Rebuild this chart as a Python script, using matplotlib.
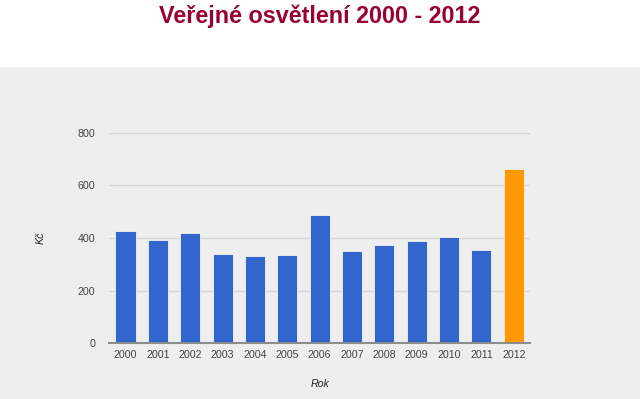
import numpy as np
import matplotlib.pyplot as plt
from matplotlib.patches import Rectangle

plt.rcParams['font.family'] = ['Liberation Sans', 'DejaVu Sans']

years = ['2000', '2001', '2002', '2003', '2004', '2005', '2006',
         '2007', '2008', '2009', '2010', '2011', '2012']
costs = [427, 392, 420, 340, 330, 335, 489, 351, 375, 388, 404, 353, 661]
highlight = '2012'

W, H = 640, 399
fig = plt.figure(figsize=(W / 100, H / 100), dpi=100)
fig.patch.set_facecolor('white')

# grey panel under the title
fig.patches.append(Rectangle((0, 0), 1, 1 - 67 / H, transform=fig.transFigure,
                             facecolor='#eeeeee', edgecolor='none', zorder=-5))

fig.text(0.5, 1 - 16 / H, 'Veřejné osvětlení 2000 - 2012', ha='center', va='center',
         fontsize=16.8, fontweight='bold', color='#990033')

# plot area: x 109..530, y 132..343 (pixels)
ax = fig.add_axes([109.3 / W, 1 - 343.3 / H, (530 - 109.3) / W, (343.3 - 132.7) / H])
ax.set_facecolor('none')

x = np.arange(len(years))
colors = ['#ff9900' if y == highlight else '#3366cc' for y in years]
ax.bar(x, costs, width=0.62, color=colors, edgecolor='#f4f4f4', linewidth=0.6, zorder=3)

ax.set_xlim(-0.5, len(years) - 0.5)
ax.set_ylim(0, 800)
ax.set_yticks([0, 200, 400, 600, 800])
ax.set_xticks(x)
ax.set_xticklabels(years)
ax.yaxis.grid(True, color='#d6d6d6', linewidth=1)
ax.set_axisbelow(True)
for s in ['top', 'right', 'left']:
    ax.spines[s].set_visible(False)
ax.spines['bottom'].set_color('#8c8c8c')
ax.spines['bottom'].set_linewidth(1.5)
ax.spines['bottom'].set_zorder(4)
ax.tick_params(axis='both', length=0, labelsize=7.7, colors='#444444')
ax.tick_params(axis='y', pad=10)
ax.tick_params(axis='x', pad=4.5)

fig.text(40.7 / W, 1 - 238 / H, 'Kč', rotation=90, ha='center', va='center',
         fontsize=7.7, style='italic', color='#222222')
fig.text(320 / W, 1 - 384 / H, 'Rok', ha='center', va='center',
         fontsize=7.7, style='italic', color='#222222')

fig.savefig('out.png', dpi=100, facecolor=fig.get_facecolor())
